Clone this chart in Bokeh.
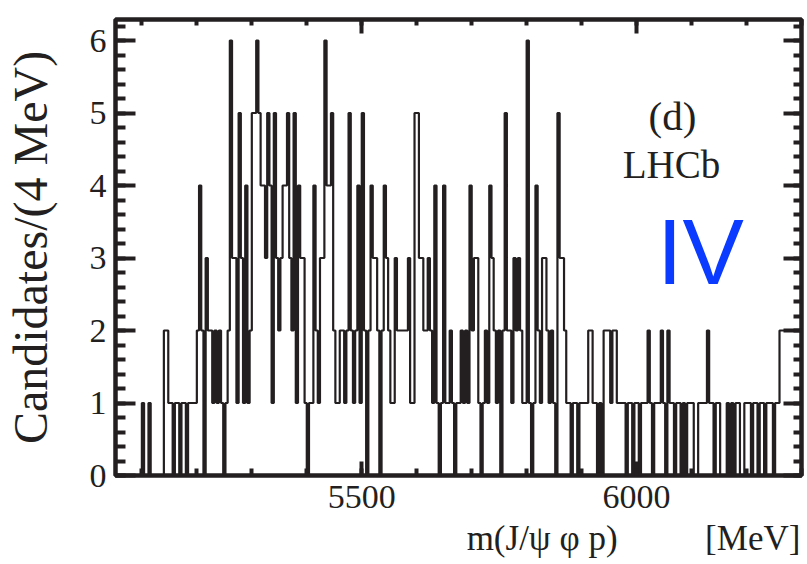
from bokeh.plotting import figure
from bokeh.models import Range1d, LinearAxis, FixedTicker, Label, CustomJSTickFormatter
from bokeh.embed import file_html
from bokeh.resources import INLINE

# m(J/psi phi p) candidates in 4 MeV bins, first bin starts at 5052 MeV
bin_low = 5052
bin_width = 4
counts = [
    0, 0, 0, 0, 0, 0, 0, 0, 0, 0, 0, 0, 1, 0, 0, 1, 0, 0, 0, 0, 0, 0, 2, 2, 1,
    1, 0, 1, 1, 0, 1, 1, 0, 1, 1, 1, 1, 2, 4, 2, 0, 3, 2, 2, 1, 2, 1, 2, 1, 0, 1,
    2, 6, 3, 3, 1, 5, 3, 1, 4, 1, 2, 5, 5, 6, 5, 4, 4, 3, 5, 4, 1, 5, 3, 2, 3, 4,
    4, 5, 3, 2, 5, 1, 4, 3, 3, 1, 0, 1, 1, 4, 2, 1, 3, 3, 6, 4, 4, 5, 2, 1, 1, 2, 2,
    1, 2, 5, 2, 1, 2, 4, 1, 5, 2, 0, 2, 4, 3, 3, 2, 0, 2, 4, 3, 2, 1, 1, 3, 2, 2,
    2, 2, 2, 3, 1, 1, 5, 5, 3, 3, 2, 2, 3, 2, 1, 4, 1, 0, 1, 4, 1, 1, 2, 1, 0, 1,
    1, 2, 1, 2, 1, 4, 2, 3, 3, 1, 0, 1, 2, 1, 4, 3, 2, 1, 2, 0, 2, 5, 2, 2, 1, 3, 2,
    3, 2, 1, 1, 6, 1, 0, 1, 4, 2, 1, 3, 3, 2, 1, 2, 1, 0, 5, 3, 3, 2, 1, 1, 0, 1,
    1, 0, 1, 1, 1, 1, 2, 2, 1, 1, 0, 1, 0, 2, 2, 2, 1, 2, 2, 1, 1, 1, 1, 0, 1, 1,
    0, 1, 1, 0, 1, 1, 1, 2, 1, 0, 1, 1, 1, 2, 1, 0, 2, 1, 1, 0, 1, 1, 0, 1, 0, 1, 1,
    1, 0, 0, 1, 1, 1, 1, 2, 1, 1, 0, 1, 1, 0, 0, 0, 1, 0, 1, 0, 1, 1, 0, 0, 1, 1,
    1, 0, 1, 1, 0, 1, 1, 0, 1, 1, 1, 0, 1, 1, 2, 2, 2, 2, 2, 2, 2, 2, 2, 2,
]

x_major_ticks = [5500, 6000]
x_minor_ticks = [5100, 5200, 5300, 5400, 5500, 5600, 5700, 5800, 5900, 6000, 6100, 6200, 6300]
y_major_ticks = [0, 1, 2, 3, 4, 5, 6]
y_minor_ticks = [i / 5 for i in range(0, 32)]

NBSP = "\u00a0"
x_title = "m(J/\u03c8 \u03c6 p)" + NBSP * 10 + "[MeV]"
y_title = "Candidates/(4 MeV)"

x_lo = bin_low
x_hi = bin_low + bin_width * len(counts)
y_hi = 6.29

INK = "#231f20"
SERIF = "Liberation Serif"

W, H = 807, 564
LEFT, RIGHT, TOP, BOTTOM = 115, 6, 19, 89

p = figure(width=W, height=H, x_range=Range1d(x_lo, x_hi), y_range=Range1d(0, y_hi),
           output_backend="svg", toolbar_location=None,
           min_border_left=LEFT, min_border_right=RIGHT,
           min_border_top=TOP, min_border_bottom=BOTTOM)
p.xgrid.visible = False
p.ygrid.visible = False
p.background_fill_color = "white"
p.border_fill_color = "white"
p.outline_line_color = INK
p.outline_line_width = 4.5

# histogram as a step outline
edges = [bin_low + bin_width * i for i in range(len(counts) + 1)]
levels = counts + [counts[-1]]
p.step(edges, levels, mode="after", line_color=INK, line_width=2.2)


def style_axis(ax, major_in, minor_in):
    ax.axis_line_color = None
    ax.major_tick_in = major_in
    ax.major_tick_out = 0
    ax.minor_tick_in = minor_in
    ax.minor_tick_out = 0
    ax.major_tick_line_color = INK
    ax.minor_tick_line_color = INK
    ax.major_tick_line_width = 4
    ax.minor_tick_line_width = 4
    ax.major_label_text_font = SERIF
    ax.major_label_text_color = INK


xax = p.xaxis[0]
xax.ticker = FixedTicker(ticks=x_major_ticks, minor_ticks=x_minor_ticks)
style_axis(xax, 14, 7)
xax.major_label_text_font_size = "34px"
xax.major_label_standoff = 10
# title sits at the right end of the axis: lead it with fixed-width blanks
xax.axis_label = NBSP * 40 + x_title
xax.axis_label_text_font = SERIF
xax.axis_label_text_font_size = "35px"
xax.axis_label_text_font_style = "normal"
xax.axis_label_text_color = INK
xax.axis_label_standoff = 8

yax = p.yaxis[0]
yax.ticker = FixedTicker(ticks=y_major_ticks, minor_ticks=y_minor_ticks)
style_axis(yax, 20, 10)
yax.major_label_text_font_size = "34px"
yax.major_label_standoff = 9
yax.axis_label = y_title
yax.axis_label_text_font = SERIF
yax.axis_label_text_font_size = "48px"
yax.axis_label_text_font_style = "normal"
yax.axis_label_text_color = INK
yax.axis_label_standoff = 30

blank = CustomJSTickFormatter(code="return ''")
top_ax = LinearAxis(ticker=FixedTicker(ticks=x_major_ticks, minor_ticks=x_minor_ticks),
                    formatter=blank, major_label_standoff=0, major_label_text_font_size="1px")
style_axis(top_ax, 14, 6)
right_ax = LinearAxis(ticker=FixedTicker(ticks=y_major_ticks, minor_ticks=y_minor_ticks),
                      formatter=blank, major_label_standoff=0, major_label_text_font_size="1px")
style_axis(right_ax, 18, 8)
p.add_layout(top_ax, "above")
p.add_layout(right_ax, "right")


# helpers to place annotation text by canvas pixel
def sx(px):
    return x_lo + (px - LEFT) * (x_hi - x_lo) / (W - LEFT - RIGHT)


def sy(py):
    return (H - BOTTOM - py) * y_hi / (H - BOTTOM - TOP)


def add_text(txt, px, py, size, font=SERIF, color=INK):
    p.add_layout(Label(x=sx(px), y=sy(py), text=txt, text_font=font,
                       text_font_size=f"{size}px", text_color=color,
                       text_align="center", text_baseline="alphabetic"))


add_text("(d)", 672, 115, 41)
add_text("LHCb", 671, 164, 39)
add_text("IV", 700, 251, 92, font="Liberation Sans", color="#0a3bff")

open("out.html", "w").write(file_html(p, INLINE))
